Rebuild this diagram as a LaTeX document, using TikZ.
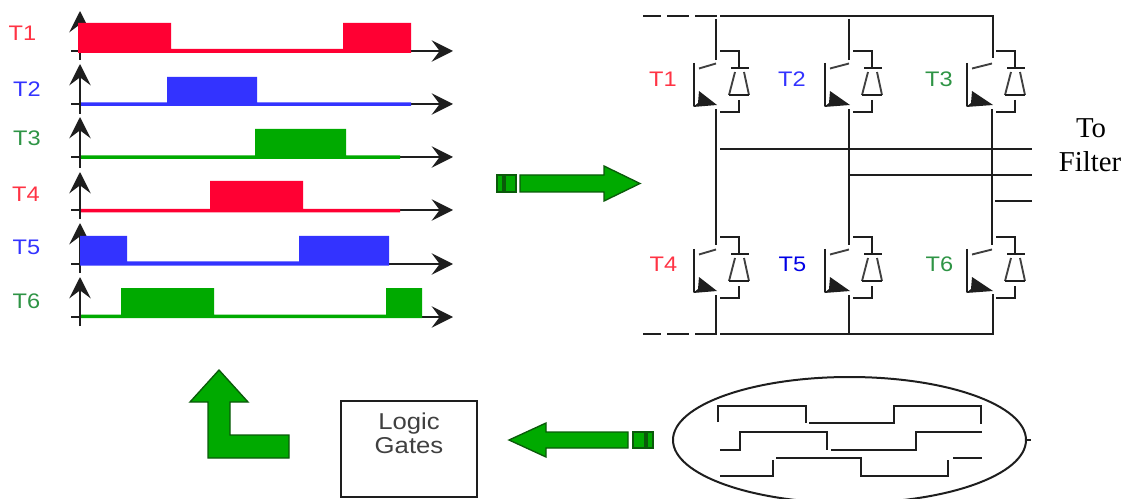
\documentclass[tikz,border=0pt]{standalone}
\usepackage{fontspec}
\setmainfont{Liberation Serif}
\newfontfamily\widesans[FakeStretch=1.12]{Liberation Sans}
\usetikzlibrary{arrows.meta,shapes.geometric}
\definecolor{wred}{HTML}{FF0033}
\definecolor{wblue}{HTML}{3333FF}
\definecolor{wgreen}{HTML}{00AA00}
\definecolor{lred}{HTML}{FF3344}
\definecolor{lgreen}{HTML}{2E9445}
\definecolor{ink}{HTML}{1E1E1E}
\definecolor{gedge}{HTML}{0A5A0A}
\tikzset{
  axisline/.style={draw=ink,line width=1.5pt,-{Stealth[length=16pt,width=16pt,inset=6pt]}},
  circuit/.style={draw=ink,line width=1.5pt},
  thinpart/.style={draw=ink!85,line width=1.4pt},
  tlabel/.style={font=\widesans\fontsize{15.8pt}{15.8pt}\selectfont,anchor=base,inner sep=0pt},
  gatetext/.style={font=\widesans\fontsize{17.2pt}{17.2pt}\selectfont,anchor=base,inner sep=0pt,text=black!75},
  serif/.style={font=\fontsize{21.6pt}{21.6pt}\selectfont,anchor=base,inner sep=0pt,text=black},
  garrow/.style={fill=wgreen,draw=gedge,line width=1pt,line join=miter}
}
\newcommand{\axes}[3]{%
  \draw[axisline] (80,#3) -- (80,#1);
  \draw[axisline] (71,#2) -- (453,#2);
}
\newcommand{\igbt}[3]{%
  \begin{scope}[shift={(#1,#2)}]
    \draw[circuit] (4,51) -- (23,51) -- (23,68);
    \draw[circuit] (15,68) -- (33,68);
    \draw[thinpart] (19,72) -- (13,95);
    \draw[thinpart] (28,72) -- (33,95);
    \draw[circuit] (13,95) -- (33,95);
    \draw[circuit] (22.5,100) -- (22.5,112) -- (4,112);
    \draw[circuit] (#3,63) -- (#3,106);
    \draw[thinpart] ({#3+5},68.5) -- (0,63.5);
    \fill[ink] (1,105) -- ({#3-1},107) -- ({#3+4},103) -- ({#3+5},91) -- cycle;
  \end{scope}
}
\begin{document}
\begin{tikzpicture}[x=0.75pt,y=-0.75pt]
\clip (0,0) rectangle (1125,499);
% waveforms
\axes{11}{51}{60}
\fill[wred] (78,23) rectangle (171,53) (171,49) rectangle (343,53) (343,23) rectangle (411,53);
\axes{64}{104}{114}
\fill[wblue] (81,102.5) rectangle (411,106) (167,77) rectangle (257,106);
\axes{117}{157}{168}
\fill[wgreen] (81,155.5) rectangle (400,159) (255,129) rectangle (346,159);
\axes{172}{210}{219}
\fill[wred] (81,209) rectangle (400,212.5) (210,181) rectangle (303,212.5);
\axes{223}{264}{273}
\fill[wblue] (80,236) rectangle (127,265.5) (127,261.5) rectangle (299,265.5) (299,236) rectangle (389,265.5);
\axes{277}{317}{326}
\fill[wgreen] (81,314.5) rectangle (422,318) (121,288) rectangle (214,318) (386,288) rectangle (422,318);
% waveform labels
\node[tlabel,text=lred] (a1) at (22.5,41) {T1};
\node[tlabel,text=wblue] (a2) at (27,97) {T2};
\node[tlabel,text=lgreen] (a3) at (27,146) {T3};
\node[tlabel,text=lred] (a4) at (26,202) {T4};
\node[tlabel,text=wblue] (a5) at (26.5,254) {T5};
\node[tlabel,text=lgreen] (a6) at (26.5,308) {T6};
% bridge buses
\draw[circuit] (643,16) -- (661,16) (667,16) -- (689,16) (695,16) -- (717,16);
\draw[circuit] (720,16) -- (992.7,16) -- (992.7,58);
\draw[circuit] (643,334) -- (661,334) (667,334) -- (689,334) (695,334) -- (717,334);
\draw[circuit] (720,334) -- (992.7,334) -- (992.7,294);
\draw[circuit] (716,19) -- (716,60) (716,109) -- (716,245) (716,295) -- (716,334);
\draw[circuit] (849,19) -- (849,60) (849,109) -- (849,245) (849,295) -- (849,334);
\draw[circuit] (992,109) -- (992,245);
\draw[circuit] (720,149) -- (1032,149);
\draw[circuit] (849,175) -- (1032,175);
\draw[circuit] (995,201) -- (1032,201);
% switches
\igbt{716}{0}{-22}
\igbt{849}{0}{-24}
\igbt{992}{0}{-25}
\igbt{716}{186}{-22}
\igbt{849}{186}{-24}
\igbt{992}{186}{-25}
% bridge labels
\node[tlabel,text=lred] (b1) at (663,87) {T1};
\node[tlabel,text=wblue] (b2) at (792,87) {T2};
\node[tlabel,text=lgreen] (b3) at (939,87) {T3};
\node[tlabel,text=lred] (b4) at (663.5,272) {T4};
\node[tlabel,text=blue!90!black] (b5) at (792.5,272) {T5};
\node[tlabel,text=lgreen] (b6) at (939.5,272) {T6};
\node[serif] (to) at (1091,138) {To};
\node[serif] (filter) at (1090,172) {Filter};
% green arrows
\draw[garrow] (497,175) rectangle (503,192);
\draw[garrow] (505,175) rectangle (516,192);
\draw[garrow] (520,175) -- (604,175) -- (604,166) -- (640,183.5) -- (604,201) -- (604,192) -- (520,192) -- cycle;
\draw[garrow] (653,432) rectangle (647,448);
\draw[garrow] (645,432) rectangle (633,448);
\draw[garrow] (628,432) -- (546,432) -- (546,423) -- (509,440) -- (546,457) -- (546,448) -- (628,448) -- cycle;
\draw[garrow] (219,370) -- (248,402) -- (230,402) -- (230,435) -- (289,435) -- (289,458) -- (208,458) -- (208,402) -- (190,402) -- cycle;
% logic gates
\node[draw=ink,line width=1.5pt,minimum width=102pt,minimum height=72pt,inner sep=0pt] (gates) at (409,449) {};
\node[gatetext] (g1) at (409,429) {Logic};
\node[gatetext] (g2) at (409,453) {Gates};
% reference waves
\node[ellipse,draw=ink,line width=1.5pt,minimum width=264.75pt,minimum height=94.5pt,inner sep=0pt] (osc) at (849.5,440) {};
\coordinate (stub) at (1031,440);
\draw[circuit] (osc.east) -- (stub);
\draw[circuit] (718,422) -- (718,406) -- (806,406) -- (806,423);
\draw[circuit] (809,423) -- (894,423) -- (894,406) -- (981,406) -- (981,424);
\draw[circuit] (720,449.5) -- (740,449.5) -- (740,432) -- (827,432) -- (827,450);
\draw[circuit] (831,449.5) -- (916,449.5) -- (916,432) -- (982,432);
\draw[circuit] (720,476) -- (773,476) -- (773,460);
\draw[circuit] (776,458) -- (861,458) -- (861,476) -- (948,476) -- (948,460);
\draw[circuit] (953,458) -- (982,458);
\end{tikzpicture}
\end{document}
